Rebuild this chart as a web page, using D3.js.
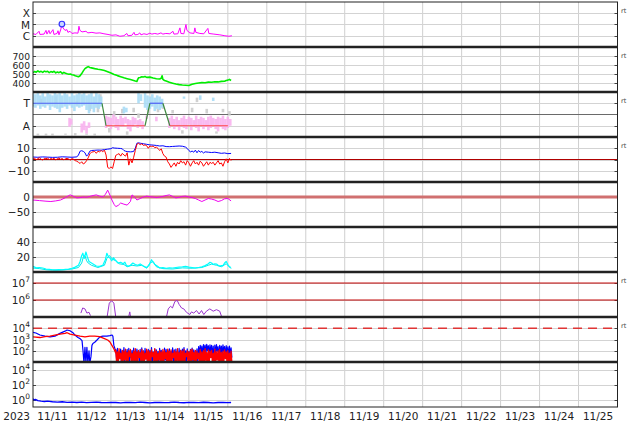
<!DOCTYPE html>
<html><head><meta charset="utf-8">
<script src="https://cdn.jsdelivr.net/npm/d3@7"></script>
<style>body{margin:0;background:#fff}svg{display:block;font-family:"DejaVu Sans",sans-serif}</style>
</head><body>
<svg id="c" width="634" height="424"></svg>
<script>
// ---------- DATA (hours since 2023-11-11 00:00 UTC) ----------
const dayLabels = ["11/11","11/12","11/13","11/14","11/15","11/16","11/17","11/18","11/19","11/20","11/21","11/22","11/23","11/24","11/25"];
const yearLabel = "2023";

// Panel 1: X-ray flux (µW/m²)
const xrayTicks = [100, 10, 1];
const xrayTickLabels = ["X", "M", "C"];
const xrayH = [0,1.8,3.7,4.3,6.8,8,8.6,9.8,10.5,12.3,12.9,14.8,15.4,16,17.2,17.8,18.5,19.7,20.9,21.5,22.8,24,25.8,27.7,28.3,28.9,30.2,32.6,33.8,36.3,38.8,41.2,43.7,46.2,48.6,51.1,53.5,56,57.8,58.5,60.9,62.2,62.8,64.6,65.8,66.5,68.3,70.2,72,73.2,75,76.9,78.8,80,81.8,84.3,86.2,86.8,89.2,90.5,91.1,92.9,94.2,94.8,96.6,99.1,99.7,100.3,102.8,105.2,107.7,108.3,111.4,115.1,118.2,120.6,122.5];
const xrayF = [1.5,1.3,2.5,1.3,1.4,3,1.4,3,1.5,3.5,1.3,1.6,2.8,1.2,4,11,5,3,3.5,2,2.5,1.6,1.8,1.7,7,3,2.2,2.5,1.8,2,1.7,1.8,1.5,1.3,1.1,1.2,0.9,1,1.6,1,1.1,2,1.2,1.3,1.8,1.2,1.5,1.3,1.7,1.4,1.6,1.4,1.8,1.4,1.6,1.5,2.5,1.4,1.5,5,1.6,1.5,10,3,1.8,1.6,5,2,1.6,1.5,4.5,1.6,1.4,1.2,1,0.9,1];
const flareH = [17.8];
const flareF = [11];

// Panel 2: solar wind speed (km/s)
const windTicks = [700, 600, 500, 400];
const windH = [0,1,2,3,4,5,6,7,8,9,10,11,12,13,14,15,16,17,18,19,20,21,22,23,24,25,26,27,28,29,30,31,32,33,34,35,36,38,40,42,44,46,48,50,52,54,56,58,60,62,63,64,64.5,65,66,67,68,69,70,72,74,76,78,79,79.5,80,81,82,84,86,88,90,92,94,96,98,100,102,104,106,108,110,112,114,116,118,119,120,121,122];
const windV = [515,528,520,535,522,530,518,532,524,530,515,527,520,530,512,522,515,525,505,518,508,502,498,500,492,488,480,476,470,480,505,535,560,572,582,572,568,560,553,548,538,525,510,495,482,470,458,448,438,428,422,418,440,458,462,470,466,472,462,465,456,448,444,452,480,440,428,422,408,398,388,382,378,375,372,385,395,400,404,402,410,408,414,412,418,420,428,432,440,428];

// Panel 3: IMF sector (T = toward, A = away)
const sectorTicks = [1, -1];
const sectorTickLabels = ["T", "A"];
const sectorH = [0,42.5,45,69,72,80,84.3,120];
const sectorV = [1,1,-1,-1,1,1,-1,-1];
const cloudBlue = [[0,0.7,1.9],[1.5,0.6,1.8],[3,0.8,2],[4.5,0.5,1.7],[6,0.7,1.9],[7.5,0.6,1.6],[9,0.8,1.9],[10.5,0.4,1.8],[12,0.7,1.7],[13.5,0.6,2],[15,0.5,1.8],[16.5,0.2,1.9],[18,0.6,1.7],[19.5,0.7,1.9],[21,0.5,1.8],[22.5,0.8,1.6],[24,0.6,1.9],[25.5,0.3,1.7],[27,0.7,1.8],[28.5,0.6,2],[30,0.7,1.8],[31.5,0.8,1.9],[33,0.4,1.7],[34.5,0.1,1.8],[36,0.5,1.9],[37.5,0.2,1.6],[39,0.6,1.9],[40.5,0.5,1.8],[42,0.7,1.6],[56,0.1,0.7],[57.5,0.2,0.6],[65,1.0,1.9],[66.5,1.2,1.8],[69,0.6,1.9],[70.5,0.4,1.7],[72,0.5,1.6],[73.5,0.7,1.8],[75,0.3,1.5],[76.5,0.5,1.7],[78,0.4,1.6],[79.5,0.6,1.4],[93,1.4,1.6],[103,1.3,1.7],[111,1.2,1.5]];
const cloudPink = [[22.5,-1.1,-0.3],[23.5,-0.9,-0.4],[30,-1.6,-0.8],[31.5,-1.4,-0.6],[33,-1.7,-1.0],[34.5,-1.2,-0.7],[45,-1.2,-0.1],[46.5,-1.0,-0.2],[48,-1.3,-0.3],[49.5,-0.9,0],[51,-1.2,-0.2],[52.5,-1.4,-0.4],[54,-1.0,-0.1],[55.5,-1.1,-0.3],[57,-0.8,-0.2],[58.5,-1.3,-0.4],[60,-1.5,-0.5],[61.5,-1.1,-0.2],[63,-0.9,-0.3],[64.5,-1.2,-0.5],[66,-1.0,-0.4],[67.5,-1.3,-0.6],[70,-0.4,-0.1],[76,-0.6,-0.2],[84,-1.2,-0.3],[85.5,-1.0,-0.1],[87,-1.3,-0.4],[88.5,-1.1,-0.2],[90,-1.4,-0.5],[91.5,-1.0,-0.3],[93,-1.2,-0.1],[94.5,-1.3,-0.4],[96,-0.9,-0.2],[97.5,-1.4,-0.3],[99,-1.1,-0.5],[100.5,-1.2,-0.1],[102,-1.5,-0.4],[103.5,-1.0,-0.2],[105,-1.3,-0.3],[106.5,-1.1,-0.5],[108,-1.4,-0.2],[109.5,-1.2,-0.1],[111,-1.0,-0.3],[112.5,-1.3,-0.4],[114,-1.5,-0.2],[115.5,-1.1,-0.3],[117,-1.3,-0.1],[118.5,-1.4,-0.4],[120,-1.2,-0.2],[121.5,-1.0,-0.4]];
const cloudGrey = [[3,-1.85,-1.7],[8,-1.85,-1.7],[12,-1.85,-1.7],[20,-1.8,-1.7],[26,-1.85,-1.65],[33,-1.8,-1.7],[38,-1.85,-1.7],[5,0.9,1.4],[14,1.0,1.6],[27,0.8,1.2],[35,0.3,0.9],[40,0.2,1.0],[41.5,1.2,1.8],[47,-1.6,-1.2],[50,-0.2,0.3],[55,0.1,0.5],[58,-1.8,-1.5],[62,0.2,0.6],[65,-0.3,0.1],[71,0.1,0.6],[77,0.2,0.5],[80,0.5,0.9],[86,0.1,0.4],[92,-1.7,-1.4],[98,0.2,0.6],[101,1.1,1.5],[107,0.1,0.5],[113,-1.7,-1.5],[117,0.2,0.5],[121,-0.1,0.3]];

// Panel 4: IMF Bt (blue) and Bz (red), nT
const bTicks = [10, 0, -10];
const bTickLabels = ["10", "0", "\u221210"];
const btH = [0,3,6,9,12,15,18,21,24,27,28,29,30,31,32,33,34,35,36,38,40,42,44,46,48,49,50,52,54,55,56,57,58,60,61,62,63,64,65,66,68,70,72,74,76,78,80,82,84,86,88,90,92,94,95,96,97,98,99,100,101,102,103,104,105,106,108,110,112,114,116,118,120,122];
const btV = [2.2,2.0,2.3,2.1,1.9,2.0,2.4,2.2,2.0,2.3,4,7.4,7.8,7.2,6,3,4.5,7.4,8,8.2,8.4,8.3,8.8,9.2,9.6,10.5,10.2,10,9.8,9.5,8,7.4,7,6.8,6.9,7.2,10,14.5,14.8,14.5,14,13.5,13,12.8,12.5,12,12.2,11.5,11.4,11.6,11.8,12,11.8,11,9.8,8,6.8,7.5,6.5,8.3,6,8,6.5,7.2,5.8,6.8,6.5,6.2,6.5,6,5.5,5.8,5.2,5.4];
const bzH = [0,1,2,3,4,5,6,7,8,9,10,11,12,13,14,15,16,17,18,19,20,21,22,23,24,25,26,27,28,29,30,31,32,33,34,35,36,37,38,39,40,41,42,43,44,45,46,47,48,49,50,51,52,53,54,55,56,57,58,59,60,61,62,63,64,65,66,67,68,69,70,71,72,73,74,75,76,77,78,79,80,81,82,83,84,85,86,87,88,89,90,91,92,93,94,95,96,97,98,99,100,101,102,103,104,105,106,107,108,109,110,111,112,113,114,115,116,117,118,119,120,121,122];
const bzV = [0.5,1.2,-0.3,0.8,1.5,0.2,-0.5,1.0,0.6,1.4,-0.2,0.9,0.3,1.1,-0.4,0.7,1.3,0.2,0.9,-0.3,0.6,1.0,0.4,-0.5,0.8,0.2,-1.0,-1.5,-2.5,-3.5,-2,-4,-3,-1,1.5,5,6.5,6.8,7.2,5.5,7.4,6.8,8,7,8.3,4,-7,-8,-6.5,-8,-2,3.7,4.5,5.2,3,5.5,4,3,6,-5,0.6,-3,2,8,13.5,14.5,13,14,12.5,13,12.3,10,12,11.4,12,10.5,11,9.8,8,9.5,5.2,3,2.1,-2,-4,-7,-5,-3,-6,-2.5,-4,-1,-3,-2,-5,-1,-3,-6,-3,-1,-4,-2.5,-5,-1.5,-3,-6,-4,-2,-5,-2.5,-3.5,-2.5,-5,-3,-1,-4,-3,-6,-2,0.6,-3,1,-1];

// Panel 5: Dst (nT)
const dstTicks = [0, -50];
const dstTickLabels = ["0", "\u221250"];
const dstH = [0,4,8,11,14,17,20,22,23,25,27,29,31,33,35,37,39,41,43,44.5,46,47.5,48.6,50,51,52.5,54,56,58,60,61,62.5,64,66,68,70,72,74,76,78,80,82,84,86,88,90,92,94,96,98,100,102,104,106,108,110,112,114,116,118,120,122];
const dstV = [-10,-12,-14,-15,-13,-10,-2,5,7,2,-3,-2,0,-1,2,5,7,3,0,8,23,5,-10,-25,-32,-28,-20,-24,-27,-15,7,0,-10,-5,0,3,1,0,-2,0,2,5,7,2,-3,-1,2,3,0,-2,-5,-10,-15,-10,-5,-7,-10,-15,-12,-6,-5,-13];

// Panel 6: proton density (two traces)
const denTicks = [40, 20];
const den1H = [0,2,4,6,8,10,12,14,16,18,20,22,24,26,28,29,30,30.7,31.5,32.6,33.5,34.5,36,37.5,39,41,43,44.5,45.5,46.5,47.4,48.5,49.5,50.5,51.5,52.3,54,55.5,56.6,57.5,58.5,60,61.5,63,64.5,66,68,70,71.5,73,74,75,76.5,78,80,82,84,86,88,90,92,94,96,98,100,102,104,106,108,109,110,111,112,113,114,115,116,117,118,119,120,121,122];
const den1V = [7.6,5.5,6,5.3,4,3.5,3,2.8,3.2,3,3.5,4,5,6.5,9,14,22,25,18,26.7,20,14,12,10,8,7.6,9,16,25,20,18.7,15,19,16.4,14,12,13,11,13,9,7.6,9,12,10,9,10.7,8,6,9,16.4,13,10,8,5.3,6,5,5.5,5.3,6,6.5,7,7.6,6.5,6,5.3,6,7,8.5,11,13,12,10,11,10.7,9,8,8.5,8.5,12,14,10,7,6];
const den2H = [0,4,8,12,16,20,24,28,30,31,32,33,34,36,40,44,45.5,47,49,51,53,56,58,61,64,67,70,72,74,76,80,86,92,98,104,108,110,113,116,119,122];
const den2V = [5.3,4.5,3,2.5,2.5,3,4,6,12,20,22,15,12,9,6,9,18,22,17,15,11,10,7,9,8,9,5,12,14,7,4.5,4,5.5,5,6,9,10.5,9,7,11,4.5];

// Panel 7: electron flux (log)
const elecTicks = [1e7, 1e6];
const elecH = [29.5,30.6,32,33.2,34.5,35.4,35.5,45.7,47,48.4,49.8,50.9,51,59,59.6,60,60.1,82.3,83.3,84.7,85.9,87.4,88.8,90,91.5,92.9,94.5,96.6,97.6,99,100.7,102.3,103.8,105.2,106.8,108.9,111,113,115,116.1];
const elecV = [1.7e5,3.4e5,3e5,1.7e5,1.9e5,1.2e5,null,1.1e5,6.6e5,9e5,6.6e5,1.1e5,null,1.1e5,2e5,1.1e5,null,1.1e5,3e5,4.3e5,3.4e5,8.3e5,9.5e5,5.5e5,3.4e5,3e5,1.9e5,1.4e5,2e5,1.7e5,2.4e5,1.5e5,2.4e5,1.4e5,2.2e5,3e5,2.2e5,2.7e5,2.2e5,1.1e5];

// Panel 8: proton flux two channels (log)
const pfTicks = [1e4, 1e3, 1e2];
const pfBlueH = [0,1.8,4.3,7.4,10.5,13.5,16.6,19.7,21,22.8,24.6,25.8,27.7,29,30.2,30.8,31.4,32,32.6,33.2,33.8,34.5,35,35.7,36.3,36.9,38.2,39.4,41.2,43,45.5,47.4,48.6,49.2,49.8,50.5];
const pfBlueV = [4300,3800,2500,2000,1700,2000,3500,5500,7000,6000,4000,2500,1500,1200,800,100,8,200,8,200,8,100,8,30,300,450,600,900,1700,2000,2000,2200,2500,2000,300,150];
const pfRedH = [0,4.3,7.4,10.5,13.5,16.6,19.7,21,22.8,25.8,29,32,35,38,41,44,46,47.4,48.6,49.8,51];
const pfRedV = [1700,1500,1800,2000,2500,3000,3500,4000,3000,2500,2000,1700,2000,2000,1800,1200,900,600,300,150,60];
const noiseH0 = 51; // first hour of the hourly noisy section
const pfRedHi = [120,80,150,60,110,90,140,70,100,130,60,90,150,80,110,70,130,90,60,140,100,80,120,70,150,90,60,110,80,130,100,70,140,90,120,60,100,80,150,70,110,90,130,60,100,80,120,140,70,110,90,60,130,80,100,150,70,120,90,110,60,140,80,100,130,70,90,120,80,100,60,90];
const pfRedLo = [8,8,20,8,8,15,8,8,30,8,8,12,8,8,25,8,8,8,18,8,8,8,30,8,8,8,15,8,8,8,20,8,8,8,8,25,8,8,12,8,8,8,8,30,8,8,8,15,8,8,20,8,8,8,8,12,8,8,25,8,8,8,15,8,8,8,8,20,8,8,8,8];
const pfBlueHi = [120,160,80,140,100,190,90,130,160,70,110,170,90,140,80,130,180,100,160,90,130,110,190,80,140,120,90,160,110,80,170,130,100,150,90,180,120,140,90,160,110,140,190,100,150,90,130,170,120,100,150,230,300,260,350,320,380,280,340,300,260,320,360,230,300,260,340,240,280,220,260,180];
const pfBlueLo = [15,8,30,8,20,8,40,8,12,25,8,18,8,30,8,8,15,8,35,8,20,8,8,25,8,12,8,30,8,8,15,8,40,8,20,8,8,25,8,12,8,30,8,8,18,8,35,8,8,20,8,40,60,30,80,50,100,40,70,30,8,50,90,20,60,40,80,30,50,20,40,25];

// Panel 9: low channel (log)
const lowTicks = [1e4, 1e2, 1e0];
const lowH = [0,0.5,1.5,3,5,7,9,12,15,18,21,24,27,30,33,36,39,42,45,48,51,54,57,60,63,66,69,72,75,78,81,84,87,90,93,96,99,102,105,108,111,114,117,120,122];
const lowV = [1.3,0.9,1.0,0.7,0.6,0.55,0.6,0.5,0.45,0.5,0.42,0.45,0.4,0.44,0.38,0.42,0.45,0.4,0.38,0.42,0.4,0.36,0.42,0.4,0.38,0.44,0.4,0.36,0.4,0.42,0.38,0.4,0.45,0.4,0.37,0.42,0.4,0.38,0.43,0.4,0.36,0.4,0.42,0.38,0.4];

// ---------- LAYOUT ----------
const svg = d3.select("#c");
const L = 33, R = 617.5, TOP = 2, PH = 45, NP = 9;
const T0 = Date.UTC(2023, 10, 11);
const x = d3.scaleUtc().domain([new Date(T0), new Date(Date.UTC(2023, 10, 26))]).range([L, R]);
const hx = h => x(new Date(T0 + h * 3600e3));
const zip = (a, b) => a.map((v, i) => [v, b[i]]);

const scales = [
  d3.scaleLog().domain([0.1, 1000]),
  d3.scaleLinear().domain([300, 800]),
  d3.scaleLinear().domain([-2, 2]),
  d3.scaleLinear().domain([-20, 20]),
  d3.scaleLinear().domain([-100, 50]),
  d3.scaleLinear().domain([0, 60]),
  d3.scaleLog().domain([1e5, 4.47e7]),
  d3.scaleLog().domain([10, 1e5]),
  d3.scaleLog().domain([0.1, 1e5])
];
const tickSets = [xrayTicks, windTicks, sectorTicks, bTicks, dstTicks, denTicks, elecTicks, pfTicks, lowTicks];
const labelSets = [xrayTickLabels, windTicks.map(String), sectorTickLabels, bTickLabels, dstTickLabels, denTicks.map(String), null, null, null];
const labelSize = [10.5, 9.2, 10.5, 10.5, 10.5, 10.5, 10.5, 10, 10.5];
const rtPanels = [0, 1, 2, 3, 6, 7];

scales.forEach((s, i) => s.range([TOP + (i + 1) * PH, TOP + i * PH]));

const defs = svg.append("defs");
scales.forEach((s, i) => {
  defs.append("clipPath").attr("id", "cp" + i).append("rect")
    .attr("x", L).attr("y", TOP + i * PH).attr("width", R - L).attr("height", PH);
});

// vertical day grid
const days = d3.utcDay.range(new Date(T0 + 86400e3), new Date(Date.UTC(2023, 10, 26)));
svg.append("g").selectAll("line").data(days).join("line")
  .attr("x1", d => x(d)).attr("x2", d => x(d)).attr("y1", TOP).attr("y2", TOP + NP * PH)
  .attr("stroke", "#cfcfcf").attr("stroke-width", 1);

// horizontal grid + tick labels
scales.forEach((s, i) => {
  const g = svg.append("g");
  tickSets[i].forEach((t, k) => {
    const y = Math.round(s(t)) + 0.5;
    g.append("line").attr("x1", L).attr("x2", R).attr("y1", y).attr("y2", y)
      .attr("stroke", "#d3d3d3");
    g.append("line").attr("x1", R - 3).attr("x2", R).attr("y1", y).attr("y2", y).attr("stroke", "#444");
    g.append("line").attr("x1", L).attr("x2", L + 3).attr("y1", y).attr("y2", y).attr("stroke", "#444");
    const txt = g.append("text").attr("x", 30).attr("y", s(t)).attr("text-anchor", "end")
      .attr("dominant-baseline", "central").attr("font-size", labelSize[i]).attr("fill", "#222");
    if (labelSets[i]) txt.text(labelSets[i][k]);
    else {
      txt.append("tspan").text("10");
      txt.append("tspan").attr("font-size", 7.5).attr("dy", -4).text(String(Math.round(Math.log10(t))));
    }
  });
  if (rtPanels.includes(i)) {
    svg.append("text").attr("x", 621).attr("y", TOP + i * PH + 11).attr("font-size", 6.5)
      .attr("fill", "#444").text("rt");
  }
});

function lineIn(i, data, color, w) {
  const s = scales[i];
  return svg.append("path").attr("clip-path", `url(#cp${i})`)
    .attr("d", d3.line().defined(d => d[1] != null).x(d => hx(d[0])).y(d => s(d[1]))(data))
    .attr("fill", "none").attr("stroke", color).attr("stroke-width", w).attr("stroke-linejoin", "round");
}
function hline(i, v, color, w, dash) {
  const y = scales[i](v);
  const l = svg.append("line").attr("x1", L).attr("x2", R).attr("y1", y).attr("y2", y)
    .attr("stroke", color).attr("stroke-width", w);
  if (dash) l.attr("stroke-dasharray", dash);
}

// Panel 1
lineIn(0, zip(xrayH, xrayF), "#ff00ff", 1);
svg.append("g").selectAll("circle").data(zip(flareH, flareF)).join("circle")
  .attr("cx", d => hx(d[0])).attr("cy", d => scales[0](d[1])).attr("r", 2.8)
  .attr("fill", "#c8d8ff").attr("stroke", "#3333ff").attr("stroke-width", 1.2);

// Panel 2
lineIn(1, zip(windH, windV), "#00ee00", 1.6);

// Panel 3
hline(2, 0, "#6a6a6a", 1);
function cloud(data, color, op) {
  svg.append("g").attr("clip-path", "url(#cp2)").selectAll("rect").data(data).join("rect")
    .attr("x", d => hx(d[0]) - 1.3).attr("width", 2.6)
    .attr("y", d => scales[2](d[2])).attr("height", d => scales[2](d[1]) - scales[2](d[2]))
    .attr("fill", color).attr("opacity", op);
}
cloud(cloudGrey, "#cccccc", 0.9);
cloud(cloudBlue, "#a8dcf6", 0.9);
cloud(cloudPink, "#f8b2ee", 0.9);
const sec = zip(sectorH, sectorV);
for (let k = 0; k < sec.length - 1; k++) {
  const a = sec[k], b = sec[k + 1];
  const col = a[1] !== b[1] ? "#3f8a3f" : (a[1] > 0 ? "#4d5ff5" : "#ff4444");
  svg.append("line").attr("x1", hx(a[0])).attr("x2", hx(b[0]))
    .attr("y1", scales[2](a[1])).attr("y2", scales[2](b[1]))
    .attr("stroke", col).attr("stroke-width", 1.2);
}

// Panel 4
hline(3, 0, "#b00000", 1);
lineIn(3, zip(btH, btV), "#0000ff", 1);
lineIn(3, zip(bzH, bzV), "#ff0000", 1);

// Panel 5
hline(4, 0, "#d07070", 3);
lineIn(4, zip(dstH, dstV), "#ee00ee", 1);

// Panel 6
lineIn(5, zip(den2H, den2V), "#00e8e8", 1);
lineIn(5, zip(den1H, den1V), "#00ffff", 1.2);

// Panel 7
hline(6, 1e6, "#c00000", 1);
hline(6, 1e7, "#c00000", 1);
lineIn(6, zip(elecH, elecV), "#9933cc", 1);

// Panel 8
hline(7, 1e4, "#e03535", 1.5, "9,6");
function noisy(hi, lo) {
  const pts = [];
  hi.forEach((v, k) => { pts.push([noiseH0 + k, v]); pts.push([noiseH0 + k + 0.5, lo[k]]); });
  return pts;
}
lineIn(7, zip(pfBlueH, pfBlueV).concat(noisy(pfBlueHi, pfBlueLo)), "#0000ff", 1.2);
lineIn(7, zip(pfRedH, pfRedV).concat(noisy(pfRedHi, pfRedLo)), "#ff0000", 1.3);

// Panel 9
lineIn(8, zip(lowH, lowV), "#0000ff", 1.4);

// borders
svg.append("rect").attr("x", L).attr("y", TOP).attr("width", R - L).attr("height", NP * PH)
  .attr("fill", "none").attr("stroke", "#222").attr("stroke-width", 1);
for (let i = 1; i < NP; i++) {
  svg.append("line").attr("x1", L).attr("x2", R).attr("y1", TOP + i * PH).attr("y2", TOP + i * PH)
    .attr("stroke", "#222").attr("stroke-width", 2.5);
}

// date labels
svg.append("g").selectAll("text").data(dayLabels).join("text")
  .attr("x", (d, k) => hx(24 * k + 12)).attr("y", 420).attr("text-anchor", "middle")
  .attr("font-size", 10.5).attr("fill", "#222").text(d => d);
svg.append("text").attr("x", 30).attr("y", 420).attr("text-anchor", "end")
  .attr("font-size", 10.5).attr("fill", "#222").text(yearLabel);
</script>
</body></html>
